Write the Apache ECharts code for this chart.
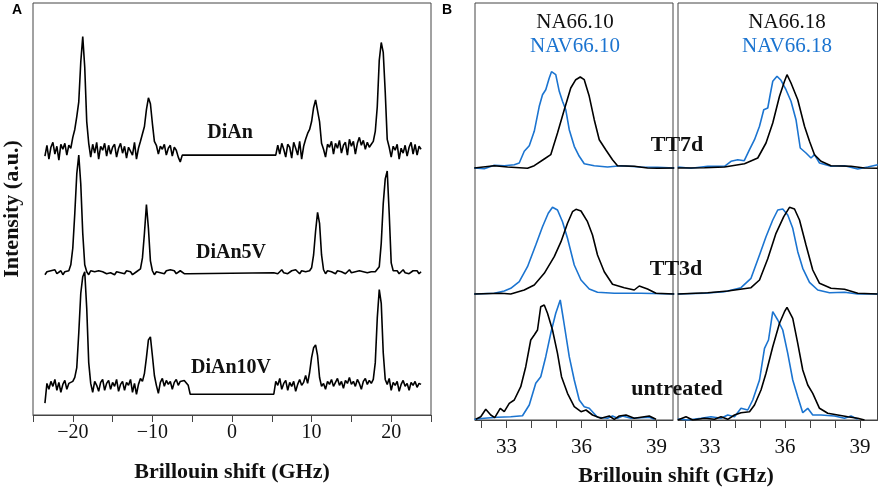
<!DOCTYPE html>
<html><head><meta charset="utf-8">
<script src="https://cdn.jsdelivr.net/npm/echarts@6/dist/echarts.min.js"></script>
<style>html,body{margin:0;padding:0;background:#fff}#c{width:879px;height:488px}</style>
</head><body><div id="c"></div>
<script>
// ---------- Panel A data (a.u.), sampled every 0.25 GHz ----------
const aStep = 0.25;
const aNames = ['DiAn', 'DiAn5V', 'DiAn10V'];
const aOffsets = [267, 144, 28];
const aLeftStart = [-23.5, -23.5, -23.5];
const aRightStart = [5.5, 5.25, 5.25];
const dianLeft = [-5,6,-8,4,9,-3,5,-9,7,2, 8,-4,6,3,14,22,35,50,90,116, 85,30,8,-6,7,-2,9,-8,5,1, 8,-5,6,-3,4,7,-6,3,8,-2, 5,-7,4,6,-4,9,-8,3,10,12, 25,42,54,48,28,10,6,-3,5,2, 7,-4,3,6,-5,4,1,-6,-11,-4];
const dianRight = [-4,6,-3,8,2,-6,7,4,-7,9, 3,-4,10,-8,5,12,18,22,30,44, 52,53,30,8,2,-6,7,4,10,-3, 8,3,11,-2,6,9,-4,12,5,10, -3,8,14,6,11,2,9,4,7,10, 20,45,92,110,100,60,12,4,-6,5, 1,7,-8,3,-2,6,-5,4,9,-3, 7,-4,5,2];
const dian5vLeft = [-2,1,-1,2,0,3,-1,1,2,-2, 1,3,2,8,25,60,100,119,90,40, 8,1,-2,2,0,1,-1,2,0,1, 3,-1,1,0,2,-2,1,2,0,1, -1,2,0,1,-2,0,1,2,4,15, 40,69,45,12,2,-2,1,3,0,1, -1,2,0,3,1,2,-1,0,2,1, -1,0,-1];
const dian5vRight = [0,2,-1,1,3,0,2,-1,1,2, 0,3,1,-1,2,0,1,3,2,5, 18,42,61,50,18,3,-1,2,0,1, 3,-1,2,0,1,2,-1,1,3,0, 2,1,-1,2,0,1,3,0,2,1, -1,1,3,6,30,70,95,103,60,10, 2,0,2,-1,1,3,0,2,-1,1, 2,0,2,-1,1];
const dian10vLeft = [-16,4,-2,6,1,8,-3,5,-5,3, 7,-2,4,2,6,10,20,55,95,112, 117,80,25,4,-5,6,2,-4,5,8, -3,4,7,-2,5,1,8,-4,3,6, -3,5,2,8,-5,4,-7,3,9,6, 14,30,48,51,32,12,2,-6,5,9, 1,7,3,6,-2,5,8,2,6,4, 7,5,2,-7];
const dian10vRight = [-7,6,2,9,-2,4,7,-3,5,1, 6,-4,3,8,2,5,12,4,15,30, 40,43,32,10,1,4,-2,6,3,8, 1,5,9,2,6,-1,7,4,10,3, 6,1,8,4,-2,6,9,3,7,4, 8,25,70,99,85,35,8,3,9,-3, 5,2,6,-4,3,7,1,4,-3,5, 2,6,0,4,3];
const aLeft = [dianLeft, dian5vLeft, dian10vLeft];
const aRight = [dianRight, dian5vRight, dian10vRight];
const aTicks = [-25,-20,-15,-10,-5,0,5,10,15,20,25];
const aTickLabels = [-20,-10,0,10,20];

// ---------- Panel B data: [GHz, a.u. above baseline] ----------
const bRows = ['TT7d', 'TT3d', 'untreated'];
const bOffsets = [252, 126, 1];
const na10_7d = [[31.71,0],[32.51,2.3],[33.04,1],[33.84,-0.3],[34.11,2.3],[34.51,9],[34.77,13.3],[35.04,35],[35.31,58.3],[35.57,80],[35.77,88.3],[35.95,91],[36.11,88.3],[36.31,71.7],[36.51,48.3],[36.71,28.3],[36.97,18.3],[37.24,8.3],[37.44,2.3],[38.11,1.7],[38.64,0],[39.04,-0.3],[39.71,0]];
const nav10_7d = [[31.71,0],[32.11,-0.7],[32.51,2.7],[32.91,2.3],[33.31,3.3],[33.51,5],[33.71,16.7],[33.91,22.3],[34.11,36.7],[34.31,61.7],[34.44,73.3],[34.57,78.3],[34.71,90],[34.80,96.3],[34.97,93.3],[35.11,76.7],[35.24,66.7],[35.37,58.3],[35.51,38.3],[35.71,21.7],[35.91,11.7],[36.11,4.3],[36.51,2.3],[37.04,1],[37.58,2.3],[38.37,1],[39.04,0.7],[39.71,0]];
const na18_7d = [[31.71,0],[32.78,0.3],[33.58,1],[34.38,4.3],[34.91,10],[35.24,25],[35.51,45],[35.78,71.7],[35.98,86.7],[36.08,93.3],[36.24,85],[36.51,68.3],[36.78,41.7],[36.98,26.7],[37.18,13.3],[37.44,6.7],[37.84,2.3],[38.64,1.7],[39.18,0],[39.71,-0.3]];
const nav18_7d = [[31.71,1],[32.24,-0.3],[32.91,1.7],[33.58,1.7],[33.84,6.7],[34.11,8.3],[34.37,7.3],[34.58,18.3],[34.78,28.3],[34.98,41.7],[35.15,58.3],[35.31,60],[35.42,75],[35.51,86.7],[35.68,91.7],[35.84,87.7],[36.04,78.3],[36.24,66.7],[36.44,48.3],[36.61,20],[36.84,15],[37.04,10],[37.18,13.3],[37.38,5],[37.84,1.7],[38.38,2.3],[38.91,-1],[39.31,1],[39.71,3.3]];
const na10_3d = [[31.71,0],[32.78,0.7],[33.17,0],[33.71,4],[34.11,9],[34.51,20.7],[34.91,37.3],[35.18,52.3],[35.44,70.7],[35.64,82.3],[35.78,84.7],[35.98,83],[36.24,72.3],[36.44,59],[36.64,39],[36.91,22.3],[37.24,9.7],[37.71,6.3],[38.11,4],[38.31,8],[38.64,5],[38.98,0.7],[39.71,0]];
const nav10_3d = [[31.71,0],[32.51,0.7],[32.91,3],[33.17,5.7],[33.51,12.3],[33.84,27.3],[34.17,49],[34.44,67.3],[34.67,80.7],[34.84,86.7],[35.04,84],[35.24,72.3],[35.44,55.7],[35.71,29],[35.98,14],[36.31,5],[36.64,1.7],[37.31,0.7],[38.38,0.7],[39.71,0]];
const na18_3d = [[31.71,0],[32.91,1.3],[33.71,3],[34.64,6.3],[34.98,14],[35.31,35.3],[35.64,60.7],[35.95,77.3],[36.18,86.7],[36.38,85],[36.58,74],[36.84,49],[37.11,24],[37.38,10.7],[37.84,5.7],[38.38,4.7],[38.91,0.7],[39.71,0]];
const nav18_3d = [[31.71,0],[32.78,0.7],[33.58,2.3],[34.24,6.3],[34.64,15.7],[34.98,39],[35.24,57.3],[35.51,74],[35.71,84],[35.91,85],[36.11,79],[36.31,65.7],[36.51,42.3],[36.71,25.7],[36.98,11.7],[37.31,4],[37.78,1.3],[38.38,1.7],[38.91,0],[39.71,0]];
const na10_un = [[31.77,-0.3],[31.97,2.3],[32.17,9.7],[32.37,4],[32.53,1.3],[32.75,10.7],[32.91,7.3],[33.11,15.7],[33.31,19],[33.57,32.3],[33.77,52.3],[33.97,79],[34.11,84],[34.24,89],[34.37,112.3],[34.51,114],[34.64,105.7],[34.84,89],[35.04,65.7],[35.2,42.3],[35.44,25.7],[35.71,12.3],[35.98,7.3],[36.18,9],[36.44,4],[36.78,0.7],[37.11,3],[37.31,-0.3],[37.51,3],[37.78,4],[38.11,0.7],[38.71,3],[38.98,-0.3]];
const nav10_un = [[31.71,-0.3],[32.11,0.7],[32.64,1.7],[33.17,2.3],[33.64,3.3],[33.91,14],[34.17,35.7],[34.37,42.3],[34.57,62.3],[34.77,85.7],[34.97,105.7],[35.15,119],[35.28,99],[35.51,62.3],[35.71,39],[35.91,19],[36.11,12.3],[36.31,10.7],[36.64,1.7],[37.04,0.7],[37.24,3],[37.44,0.7],[37.64,3],[37.98,0.7],[38.38,1.3],[38.71,1.7],[38.91,-0.3]];
const na18_un = [[31.71,-1],[32.04,2.3],[32.31,-1],[32.78,0.7],[33.18,-0.3],[33.44,2.3],[33.71,-0.3],[33.98,4],[34.24,6.3],[34.58,7.3],[34.78,14],[35.04,29],[35.24,45.7],[35.51,72.3],[35.78,95.7],[35.98,107.3],[36.08,111.7],[36.31,100.7],[36.51,75.7],[36.71,49],[36.91,34],[37.11,25.7],[37.38,10.7],[37.71,5.7],[38.11,4],[38.51,2.3],[38.91,0.7],[39.18,-1]];
const nav18_un = [[31.71,0],[32.11,-1],[32.64,0.7],[33.04,2.3],[33.44,0.7],[33.71,4],[33.98,2.3],[34.24,10.7],[34.51,9],[34.71,19],[34.98,39],[35.18,70.7],[35.34,79],[35.51,107.3],[35.71,99],[35.91,89],[36.11,65.7],[36.31,39],[36.51,22.3],[36.71,6.3],[36.91,10.7],[37.11,4],[37.44,4],[37.98,3],[38.38,0.7],[38.64,3],[38.91,-0.3]];
const bNA10 = [na10_7d, na10_3d, na10_un];
const bNAV10 = [nav10_7d, nav10_3d, nav10_un];
const bNA18 = [na18_7d, na18_3d, na18_un];
const bNAV18 = [nav18_7d, nav18_3d, nav18_un];
const bTicks = [32,33,34,35,36,37,38,39];
const bTickLabels = [33,36,39];
const bHeaders = [['NA66.10','NAV66.10'],['NA66.18','NAV66.18']];
const xTitle = 'Brillouin shift (GHz)';
const yTitle = 'Intensity (a.u.)';

// ---------- build ----------
const BLUE = '#1b74d0', BLACK = '#000', FRAME = '#444';
const SERIF = '"Liberation Serif", "Times New Roman", serif';

function aSeriesData(k) {
  const pts = [];
  aLeft[k].forEach((v, i) => pts.push([aLeftStart[k] + i * aStep, aOffsets[k] + v]));
  aRight[k].forEach((v, i) => pts.push([aRightStart[k] + i * aStep, aOffsets[k] + v]));
  return pts;
}
function shift(pairs, off) { return pairs.map(p => [p[0], p[1] + off]); }
const minus = v => String(v).replace('-', '\u2212');

function xAxisCfg(grid, min, max, ticks, labels, fs, margin, tlen) {
  return {
    type: 'value', gridIndex: grid, min: min, max: max,
    axisLine: { show: true, onZero: false, lineStyle: { color: FRAME, width: 1 } },
    axisTick: { show: true, length: tlen, customValues: ticks, lineStyle: { color: FRAME, width: 1 } },
    axisLabel: { customValues: labels, formatter: minus, fontFamily: SERIF, fontSize: fs, color: '#111', margin: margin },
    splitLine: { show: false }
  };
}
function yAxisCfg(grid) {
  return { type: 'value', gridIndex: grid, min: 0, max: 417, show: false, splitLine: { show: false } };
}

const LW = 1.6;
const series = [];
for (let k = 0; k < 3; k++) {
  series.push({ type: 'line', name: aNames[k], xAxisIndex: 0, yAxisIndex: 0, data: aSeriesData(k),
    showSymbol: false, symbol: 'none', lineStyle: { color: BLACK, width: LW }, itemStyle: { color: BLACK }, animation: false });
}
for (let r = 0; r < 3; r++) {
  series.push({ type: 'line', name: bHeaders[0][1] + ' ' + bRows[r], xAxisIndex: 1, yAxisIndex: 1, data: shift(bNAV10[r], bOffsets[r]),
    symbol: 'none', lineStyle: { color: BLUE, width: LW }, itemStyle: { color: BLUE }, animation: false });
  series.push({ type: 'line', name: bHeaders[0][0] + ' ' + bRows[r], xAxisIndex: 1, yAxisIndex: 1, data: shift(bNA10[r], bOffsets[r]),
    symbol: 'none', lineStyle: { color: BLACK, width: LW }, itemStyle: { color: BLACK }, animation: false });
  series.push({ type: 'line', name: bHeaders[1][1] + ' ' + bRows[r], xAxisIndex: 2, yAxisIndex: 2, data: shift(bNAV18[r], bOffsets[r]),
    symbol: 'none', lineStyle: { color: BLUE, width: LW }, itemStyle: { color: BLUE }, animation: false });
  series.push({ type: 'line', name: bHeaders[1][0] + ' ' + bRows[r], xAxisIndex: 2, yAxisIndex: 2, data: shift(bNA18[r], bOffsets[r]),
    symbol: 'none', lineStyle: { color: BLACK, width: LW }, itemStyle: { color: BLACK }, animation: false });
}

function txt(text, x, y, font, fill, rot) {
  return { type: 'text', x: x, y: y, rotation: rot || 0, silent: true,
    style: { text: text, fill: fill || '#000', font: font, align: 'center', verticalAlign: 'middle',
             textAlign: 'center', textVerticalAlign: 'middle' } };
}
const aLabelPos = [[230, 133], [231, 253], [231, 368]];
const bLabelPos = [[677, 145], [676, 269], [677, 389]];
const graphics = [
  txt('A', 17, 10, 'bold 14px "Liberation Sans", Arial, sans-serif'),
  txt('B', 447, 10, 'bold 14px "Liberation Sans", Arial, sans-serif'),
  txt(bHeaders[0][0], 575, 22, '21px ' + SERIF, '#111'),
  txt(bHeaders[0][1], 575, 46, '21px ' + SERIF, BLUE),
  txt(bHeaders[1][0], 787, 22, '21px ' + SERIF, '#111'),
  txt(bHeaders[1][1], 787, 46, '21px ' + SERIF, BLUE),
  txt(xTitle, 676, 476, 'bold 22px ' + SERIF, '#111')
];
aNames.forEach((n, i) => graphics.push(txt(n, aLabelPos[i][0], aLabelPos[i][1], 'bold 20px ' + SERIF, '#111')));
bRows.forEach((n, i) => graphics.push(txt(n, bLabelPos[i][0], bLabelPos[i][1], 'bold 22px ' + SERIF, '#111')));

const chart = echarts.init(document.getElementById('c'), null, { renderer: 'canvas' });
chart.setOption({
  animation: false,
  backgroundColor: '#fff',
  grid: [
    { left: 32, top: 3, width: 399, height: 417, show: true, borderColor: FRAME, borderWidth: 1, backgroundColor: 'transparent' },
    { left: 475, top: 3, width: 198, height: 417, show: true, borderColor: FRAME, borderWidth: 1, backgroundColor: 'transparent' },
    { left: 678, top: 3, width: 199.5, height: 417, show: true, borderColor: FRAME, borderWidth: 1, backgroundColor: 'transparent' }
  ],
  xAxis: [
    Object.assign(xAxisCfg(0, -25, 25, aTicks, aTickLabels, 20, 8, 7), {
      name: xTitle, nameLocation: 'middle', nameGap: 46,
      nameTextStyle: { fontFamily: SERIF, fontWeight: 'bold', fontSize: 22, color: '#111' } }),
    xAxisCfg(1, 31.74, 39.66, bTicks, bTickLabels, 21, 17, 8),
    xAxisCfg(2, 31.72, 39.70, bTicks, bTickLabels, 21, 17, 8)
  ],
  yAxis: [
    { type: 'value', gridIndex: 0, min: 0, max: 417, show: true,
      axisLine: { show: false }, axisTick: { show: false }, axisLabel: { show: false }, splitLine: { show: false },
      name: yTitle, nameLocation: 'middle', nameGap: 10, nameRotate: 90,
      nameTextStyle: { fontFamily: SERIF, fontWeight: 'bold', fontSize: 22, color: '#111' } },
    yAxisCfg(1), yAxisCfg(2)
  ],
  series: series,
  graphic: graphics
});
</script>
</body></html>
